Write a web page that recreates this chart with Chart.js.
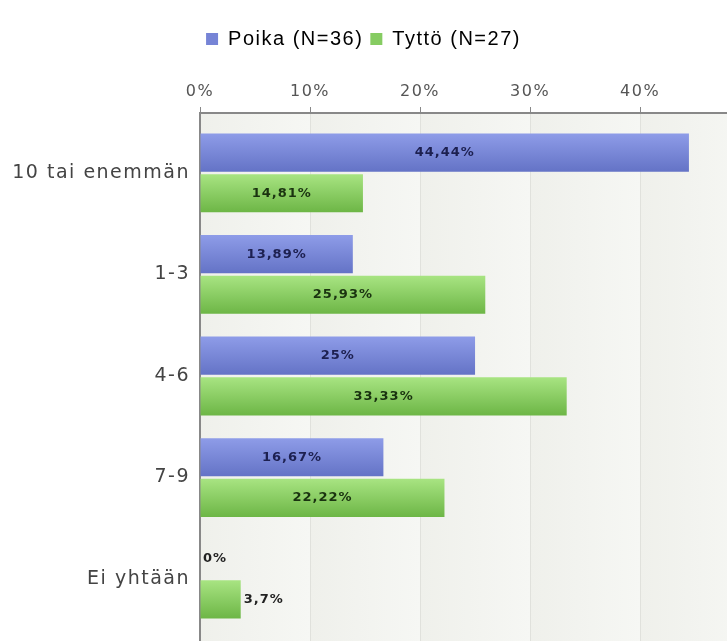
<!DOCTYPE html>
<html>
<head>
<meta charset="utf-8">
<script src="https://cdn.jsdelivr.net/npm/chart.js@4/dist/chart.umd.min.js"></script>
<style>
  html, body { margin: 0; padding: 0; background: #fff; overflow: hidden; }
  canvas { display: block; }
</style>
</head>
<body>
<canvas id="my_chart" width="727" height="641"></canvas>
<script>
// chart data
const categories = ['10 tai enemmän', '1-3', '4-6', '7-9', 'Ei yhtään'];
const seriesNames = ['Poika (N=36)', 'Tyttö (N=27)'];
const poikaValues = [44.44, 13.89, 25, 16.67, 0];
const tyttoValues = [14.81, 25.93, 33.33, 22.22, 3.7];
const tickValues = [0, 10, 20, 30, 40];

// axis end (the picture is cut at the right edge)
const xMax = 47.9;
const plotTop = 113;
const padTop = 22;

// gradients for the bars, top light -> bottom dark
const barColors = [
  {top: '#8e9ce8', bottom: '#6473c6', legend: '#7684d6', text: '#1d2050'},
  {top: '#a8e482', bottom: '#6db646', legend: '#86cc62', text: '#1a3310'}
];

const catPct = 0.8;
const barPct = 0.94;

function fmt(v) {
  return String(v).replace('.', ',') + '%';
}

function barFill(ctx) {
  const col = barColors[ctx.datasetIndex];
  const chart = ctx.chart;
  const ys = chart.scales.y;
  if (!ys || ctx.type !== 'data' || !chart.chartArea) return col.legend;
  const center = ys.getPixelForValue(ctx.dataIndex);
  const band = Math.abs(ys.getPixelForValue(1) - ys.getPixelForValue(0));
  const slot = band * catPct / 2;
  const slotTop = center - band * catPct / 2 + ctx.datasetIndex * slot;
  const top = slotTop + slot * (1 - barPct) / 2;
  const bottom = top + slot * barPct;
  const g = chart.ctx.createLinearGradient(0, top, 0, bottom);
  g.addColorStop(0, col.top);
  g.addColorStop(1, col.bottom);
  return g;
}

// letter spacing like in the original picture
const spacingPlugin = {
  id: 'spacing',
  beforeLayout(chart) { chart.ctx.letterSpacing = '1.5px'; },
  beforeDraw(chart) { chart.ctx.letterSpacing = '1.5px'; }
};

// light panel with soft vertical stripes
const panelPlugin = {
  id: 'panel',
  beforeDraw(chart) {
    const {ctx, chartArea} = chart;
    const xs = chart.scales.x;
    ctx.save();
    ctx.fillStyle = '#f2f3ef';
    ctx.fillRect(chartArea.left, chartArea.top, chartArea.right - chartArea.left, chartArea.bottom - chartArea.top);
    for (let v = 0; v < xMax; v += 10) {
      const x0 = xs.getPixelForValue(v);
      const x1 = Math.min(xs.getPixelForValue(v + 10), chartArea.right);
      const g = ctx.createLinearGradient(x0, 0, xs.getPixelForValue(v + 10), 0);
      g.addColorStop(0, '#eff0eb');
      g.addColorStop(1, '#f6f7f4');
      ctx.fillStyle = g;
      ctx.fillRect(x0, chartArea.top, x1 - x0, chartArea.bottom - chartArea.top);
    }
    ctx.restore();
  }
};

// value labels on the bars
const valuePlugin = {
  id: 'values',
  afterDatasetsDraw(chart) {
    const ctx = chart.ctx;
    ctx.save();
    ctx.font = 'bold 13px "DejaVu Sans"';
    ctx.letterSpacing = '1px';
    ctx.textBaseline = 'middle';
    chart.data.datasets.forEach((ds, di) => {
      chart.getDatasetMeta(di).data.forEach((bar, i) => {
        const txt = fmt(ds.data[i]);
        const w = ctx.measureText(txt).width;
        const len = bar.x - bar.base;
        if (len > w + 10) {
          ctx.fillStyle = barColors[di].text;
          ctx.textAlign = 'center';
          ctx.fillText(txt, bar.base + len / 2, bar.y);
        } else {
          ctx.fillStyle = '#222';
          ctx.textAlign = 'left';
          ctx.fillText(txt, bar.x + 3, bar.y);
        }
      });
    });
    ctx.restore();
  }
};

const myChart = document.getElementById('my_chart');

let barChart = new Chart(myChart, {
  type: 'bar',
  data: {
    labels: categories,
    datasets: [
      {
        label: seriesNames[0],
        data: poikaValues,
        backgroundColor: barFill,
        categoryPercentage: catPct,
        barPercentage: barPct
      },
      {
        label: seriesNames[1],
        data: tyttoValues,
        backgroundColor: barFill,
        categoryPercentage: catPct,
        barPercentage: barPct
      }
    ]
  },
  plugins: [spacingPlugin, panelPlugin, valuePlugin],
  options: {
    indexAxis: 'y',
    responsive: false,
    animation: false,
    devicePixelRatio: 1,
    layout: { padding: { top: padTop, left: 0, right: 0, bottom: 0 } },
    plugins: {
      legend: {
        position: 'top',
        labels: {
          color: '#555',
          font: { family: '"Liberation Sans"', size: 20 },
          boxWidth: 12,
          boxHeight: 12,
          padding: 7,
          generateLabels: chart => seriesNames.map((n, i) => ({
            text: n,
            fillStyle: barColors[i].legend,
            strokeStyle: barColors[i].legend,
            lineWidth: 0,
            datasetIndex: i
          }))
        }
      },
      tooltip: { enabled: false }
    },
    scales: {
      x: {
        position: 'top',
        min: 0,
        max: xMax,
        afterBuildTicks: s => { s.ticks = tickValues.map(v => ({value: v})); },
        afterFit: s => {
          const legendH = s.chart.legend ? s.chart.legend.height : 0;
          s.height = plotTop - padTop - legendH;
        },
        ticks: {
          color: '#555',
          font: { family: '"DejaVu Sans"', size: 16 },
          padding: 6,
          callback: v => v + '%'
        },
        grid: {
          color: '#e0e1dc',
          lineWidth: 1,
          tickColor: '#888',
          tickLength: 6
        },
        border: { display: true, color: '#888', width: 2 }
      },
      y: {
        afterFit: s => {
          s.width = 200;
          // no extra room for the first/last label
          s.paddingTop = 0;
          s.paddingBottom = 0;
        },
        afterBuildTicks: s => {
          // small empty margin above and below the groups
          s._startValue -= 0.09;
          s._valueRange += 0.2;
        },
        ticks: {
          color: '#444',
          font: { family: '"DejaVu Sans"', size: 19 },
          padding: 2
        },
        grid: { display: false },
        border: { display: true, color: '#888', width: 2 }
      }
    }
  }
});
</script>
</body>
</html>
